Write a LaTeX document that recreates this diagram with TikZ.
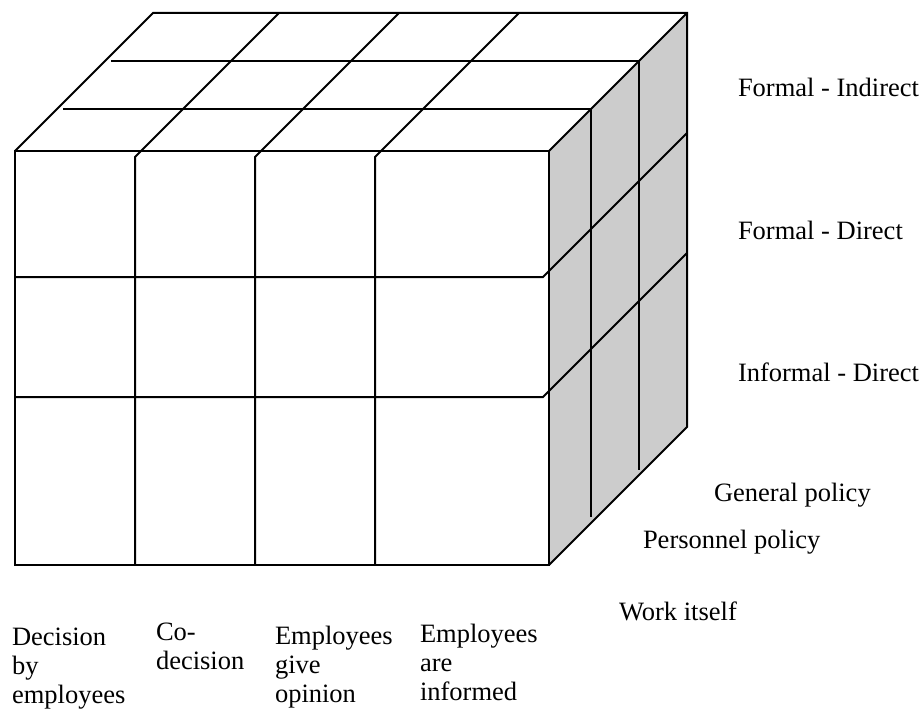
\documentclass[tikz,border=0pt]{standalone}
\usepackage{fontspec}
\setmainfont{Liberation Serif}
\begin{document}
\begin{tikzpicture}[x=0.5pt,y=-0.5pt,line width=1pt,
  lbl/.style={anchor=base west,inner sep=0pt,align=left,
    font=\fontsize{13.25}{14.5}\selectfont}]
\useasboundingbox (0,0) rectangle (924,711);
% grey side of the block
\fill[black!20] (549,151) -- (687,13) -- (687,427) -- (549,565) -- cycle;
% outline
\draw (15,151) rectangle (549,565);
\draw (15,151) -- (153,13) -- (687,13) -- (687,427) -- (549,565);
\draw (549,151) -- (687,13);
% columns of the front, carried over the top
\foreach \x in {135,255,375}
  \draw (\x+144,13) -- (\x,157) -- (\x,565);
% rows of the front, carried over the side
\foreach \y in {277,397}
  \draw (15,\y) -- (543,\y) -- (687,\y-144);
% depth lines on top and side
\draw (63,109) -- (591,109) -- (591,517);
\draw (111,61) -- (639,61) -- (639,470);

% labels (multi-line ones sit on their last line)
\node[lbl] (fi) at (737,97) {Formal - Indirect};
\node[lbl] (fd) at (737,239) {Formal - Direct};
\node[lbl] (id) at (737,381) {Informal - Direct};
\node[lbl] (gp) at (713,501) {General policy};
\node[lbl] (pp) at (642,548) {Personnel policy};
\node[lbl] (wi) at (618,620) {Work itself};
\node[lbl] (dbe) at (11,703) {Decision\\by\\employees};
\node[lbl] (cod) at (155,669) {Co-\\decision};
\node[lbl] (ego) at (274,702) {Employees\\give\\opinion};
\node[lbl] (eai) at (419,700) {Employees\\are\\informed};
\end{tikzpicture}
\end{document}
